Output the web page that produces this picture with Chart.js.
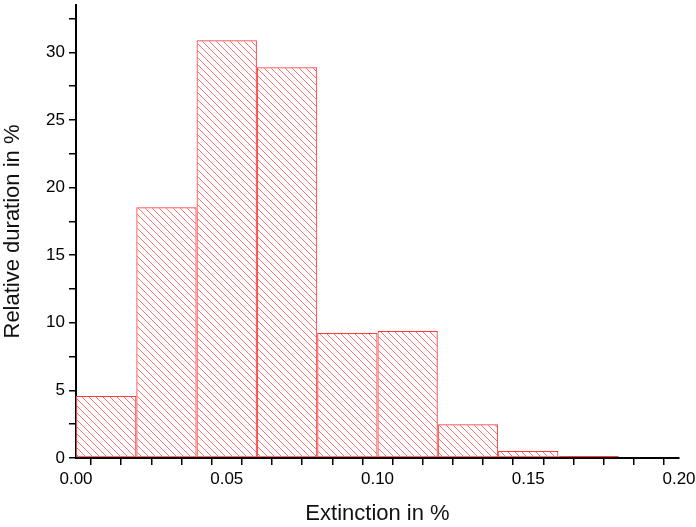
<!DOCTYPE html>
<html>
<head>
<meta charset="utf-8">
<script src="https://cdn.jsdelivr.net/npm/chart.js@4.4.1/dist/chart.umd.min.js"></script>
<style>
  html, body { margin: 0; padding: 0; background: #fff; }
  #wrap { width: 696px; height: 527px; }
</style>
</head>
<body>
<div id="wrap"><canvas id="histChart" width="696" height="527"></canvas></div>
<script>
// bin centres (extinction in %) and relative duration per bin
const binCentres = [0.01, 0.03, 0.05, 0.07, 0.09, 0.11, 0.13, 0.15, 0.17];
const durations = [4.58, 18.55, 30.9, 28.9, 9.24, 9.39, 2.49, 0.52, 0.15];
const xMajorTicks = [0, 0.05, 0.10, 0.15, 0.20];
const yMajorTicks = [0, 5, 10, 15, 20, 25, 30];

// diagonal hatch fill
function makeHatch() {
  const size = 7;
  const c = document.createElement('canvas');
  c.width = size; c.height = size;
  const g = c.getContext('2d');
  g.strokeStyle = 'rgba(255,80,80,0.8)';
  g.lineWidth = 1;
  g.beginPath();
  g.moveTo(-1, -1); g.lineTo(size + 1, size + 1);
  g.moveTo(-1, size - 1); g.lineTo(1, size + 1);
  g.moveTo(size - 1, -1); g.lineTo(size + 1, 1);
  g.stroke();
  return g.createPattern(c, 'repeat');
}

const near = (v, arr, eps) => arr.some(a => Math.abs(a - v) < eps);

new Chart(document.getElementById('histChart').getContext('2d'), {
  type: 'bar',
  data: {
    datasets: [{
      data: binCentres.map((x, i) => ({ x: x, y: durations[i] })),
      backgroundColor: makeHatch(),
      borderColor: '#ff3a3a',
      borderWidth: 1,
      borderSkipped: false,
      // minor ticks every 0.01 set the sample size, bins are 0.02 wide
      barPercentage: 1,
      categoryPercentage: 2
    }]
  },
  options: {
    responsive: false,
    animation: false,
    layout: { padding: 0 },
    plugins: { legend: { display: false }, tooltip: { enabled: false } },
    scales: {
      x: {
        type: 'linear',
        min: 0,
        max: 0.2,
        offset: false,
        afterBuildTicks: s => {
          const t = [];
          for (let i = 0; i <= 20; i++) t.push({ value: i / 100 });
          s.ticks = t;
        },
        afterFit: s => { s.height = 69; s.paddingRight = 17; s.paddingLeft = 0; },
        border: { display: true, color: '#000', width: 2 },
        grid: { drawOnChartArea: false, drawTicks: true, tickLength: 7, color: '#000', tickColor: '#000', lineWidth: 1.5 },
        ticks: {
          autoSkip: false,
          maxRotation: 0,
          padding: 4,
          color: '#000',
          font: { family: 'Liberation Sans, Arial, sans-serif', size: 17 },
          callback: v => near(v, xMajorTicks, 1e-6) ? v.toFixed(2) : ''
        },
        title: {
          display: true,
          text: 'Extinction in %',
          color: '#111',
          padding: { top: 6, bottom: 0 },
          font: { family: 'Liberation Sans, Arial, sans-serif', size: 22 }
        }
      },
      y: {
        min: 0,
        max: 33.5,
        afterBuildTicks: s => {
          const t = [];
          for (let i = 0; i <= 13; i++) t.push({ value: i * 2.5 });
          s.ticks = t;
        },
        afterFit: s => { s.width = 76; s.paddingTop = 5; s.paddingBottom = 0; },
        border: { display: true, color: '#000', width: 2 },
        grid: { drawOnChartArea: false, drawTicks: true, tickLength: 7, color: '#000', tickColor: '#000', lineWidth: 1.5 },
        ticks: {
          autoSkip: false,
          padding: 4,
          color: '#000',
          font: { family: 'Liberation Sans, Arial, sans-serif', size: 17 },
          callback: v => near(v, yMajorTicks, 1e-6) ? String(v) : ''
        },
        title: {
          display: true,
          text: 'Relative duration in %',
          color: '#111',
          padding: { top: 0, bottom: 4 },
          font: { family: 'Liberation Sans, Arial, sans-serif', size: 22 }
        }
      }
    }
  }
});
</script>
</body>
</html>
